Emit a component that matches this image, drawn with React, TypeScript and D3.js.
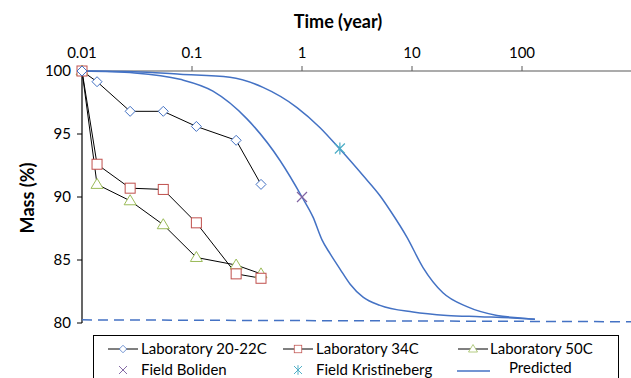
import * as d3 from 'd3';
import { useEffect, useRef } from 'react';

// time in years for the laboratory measurements
const labTimes = [0.01, 0.0137, 0.0274, 0.0548, 0.1096, 0.252, 0.424];
const lab2022 = [100, 99.15, 96.8, 96.8, 95.6, 94.5, 91.0];
const lab34 = [100, 92.6, 90.7, 90.6, 87.95, 83.9, 83.55];
const lab50 = [100, 91.0, 89.7, 87.8, 85.2, 84.6, 83.9];

const fieldBoliden = [{ t: 1.0, v: 90.0 }];
const fieldKristineberg = [{ t: 2.21, v: 93.85 }];

// predicted curves
const pred1Times = [0.01, 0.03, 0.0778, 0.155, 0.316, 0.631, 1.0, 1.26, 1.52, 1.8, 2.21, 2.73, 3.59, 5.12, 10.2, 20.8, 41.5, 82.8, 131];
const pred1Mass = [100, 99.85, 99.34, 98.4, 96.2, 92.9, 90.0, 88.4, 86.6, 85.5, 84.3, 83.1, 82.05, 81.4, 80.87, 80.6, 80.5, 80.4, 80.3];
const pred2Times = [0.01, 0.03, 0.0778, 0.221, 0.442, 0.901, 1.46, 2.21, 3.59, 5.12, 6.31, 9.01, 12.6, 19.1, 31.6, 59.3, 95.9, 131];
const pred2Mass = [100, 99.95, 99.74, 99.5, 98.7, 97.1, 95.5, 93.8, 91.7, 90.1, 88.95, 86.8, 84.4, 82.4, 81.3, 80.6, 80.4, 80.3];
const limitTimes = [0.01, 1000];
const limitMass = [80.25, 80.1];

const xTicks = [0.01, 0.1, 1, 10, 100];
const xTickLabels = ['0.01', '0.1', '1', '10', '100'];
const yTicks = [80, 85, 90, 95, 100];

const BLUE = '#4472C4';
const RED = '#C0504D';
const GREEN = '#9BBB59';
const PURPLE = '#8064A2';
const CYAN = '#4BACC6';
const FONT = 'Lato, "Open Sans", sans-serif';

function App() {
  const ref = useRef<SVGSVGElement>(null);

  useEffect(() => {
    const width = 631;
    const height = 378;
    const svg = d3.select(ref.current);
    svg.selectAll('*').remove();

    const x = d3.scaleLog().domain([0.01, 1000]).range([82, 632]);
    const y = d3.scaleLinear().domain([80, 100]).range([323, 71]);

    svg.append('rect').attr('width', width).attr('height', height).attr('fill', '#fff');

    // top axis
    svg.append('line')
      .attr('x1', x(0.01)).attr('x2', width)
      .attr('y1', y(100)).attr('y2', y(100))
      .attr('stroke', '#595959').attr('stroke-width', 1.2);
    xTicks.forEach((t, i) => {
      svg.append('line')
        .attr('x1', x(t)).attr('x2', x(t))
        .attr('y1', y(100) - 5).attr('y2', y(100))
        .attr('stroke', '#595959');
      svg.append('text')
        .attr('x', x(t)).attr('y', 58)
        .attr('text-anchor', 'middle')
        .attr('font-family', FONT).attr('font-size', 15)
        .attr('fill', '#000')
        .text(xTickLabels[i]);
    });

    // left axis
    svg.append('line')
      .attr('x1', x(0.01)).attr('x2', x(0.01))
      .attr('y1', y(100)).attr('y2', y(80))
      .attr('stroke', '#000').attr('stroke-width', 1.2);
    yTicks.forEach((v) => {
      svg.append('line')
        .attr('x1', x(0.01) - 5).attr('x2', x(0.01))
        .attr('y1', y(v)).attr('y2', y(v))
        .attr('stroke', '#000');
      svg.append('text')
        .attr('x', 71).attr('y', y(v))
        .attr('dy', '0.35em')
        .attr('text-anchor', 'end')
        .attr('font-family', FONT).attr('font-size', 15)
        .text(v);
    });

    svg.append('text')
      .attr('x', 338).attr('y', 28)
      .attr('text-anchor', 'middle')
      .attr('font-family', FONT).attr('font-size', 18).attr('font-weight', 'bold')
      .text('Time (year)');
    svg.append('text')
      .attr('transform', 'translate(34,198) rotate(-90)')
      .attr('text-anchor', 'middle')
      .attr('font-family', FONT).attr('font-size', 18).attr('font-weight', 'bold')
      .text('Mass (%)');

    const line = d3.line<[number, number]>()
      .x((d) => x(d[0]))
      .y((d) => y(d[1]))
      .curve(d3.curveMonotoneX);

    // predicted
    svg.append('path')
      .attr('d', line(limitTimes.map((t, i) => [t, limitMass[i]] as [number, number])))
      .attr('fill', 'none').attr('stroke', BLUE).attr('stroke-width', 1.5)
      .attr('stroke-dasharray', '10,6');
    [[pred1Times, pred1Mass], [pred2Times, pred2Mass]].forEach(([ts, ms]) => {
      svg.append('path')
        .attr('d', line(ts.map((t, i) => [t, ms[i]] as [number, number])))
        .attr('fill', 'none').attr('stroke', BLUE).attr('stroke-width', 1.5);
    });

    const labLine = d3.line<[number, number]>().x((d) => x(d[0])).y((d) => y(d[1]));

    const drawMarker = (g: any, kind: string, cx: number, cy: number) => {
      if (kind === 'diamond') {
        g.append('path')
          .attr('d', `M${cx},${cy - 5}L${cx + 5},${cy}L${cx},${cy + 5}L${cx - 5},${cy}Z`)
          .attr('fill', '#fff').attr('stroke', BLUE).attr('stroke-width', 1);
      } else if (kind === 'square') {
        g.append('rect')
          .attr('x', cx - 5).attr('y', cy - 5).attr('width', 10).attr('height', 10)
          .attr('fill', '#fff').attr('stroke', RED).attr('stroke-width', 1);
      } else if (kind === 'triangle') {
        g.append('path')
          .attr('d', `M${cx},${cy - 6}L${cx + 6},${cy + 4}L${cx - 6},${cy + 4}Z`)
          .attr('fill', '#fff').attr('stroke', GREEN).attr('stroke-width', 1);
      } else if (kind === 'x') {
        g.append('path')
          .attr('d', `M${cx - 5},${cy - 5}L${cx + 5},${cy + 5}M${cx - 5},${cy + 5}L${cx + 5},${cy - 5}`)
          .attr('stroke', PURPLE).attr('stroke-width', 1.2);
      } else if (kind === 'star') {
        g.append('path')
          .attr('d', `M${cx - 5},${cy - 5}L${cx + 5},${cy + 5}M${cx - 5},${cy + 5}L${cx + 5},${cy - 5}M${cx},${cy - 6}L${cx},${cy + 6}`)
          .attr('stroke', CYAN).attr('stroke-width', 1.2);
      }
    };

    const labs: [number[], string][] = [
      [lab50, 'triangle'],
      [lab34, 'square'],
      [lab2022, 'diamond']
    ];
    labs.forEach(([vals]) => {
      svg.append('path')
        .attr('d', labLine(labTimes.map((t, i) => [t, vals[i]] as [number, number])))
        .attr('fill', 'none').attr('stroke', '#000').attr('stroke-width', 1);
    });
    labs.forEach(([vals, kind]) => {
      vals.forEach((v, i) => drawMarker(svg, kind, x(labTimes[i]), y(v)));
    });
    fieldBoliden.forEach((d) => drawMarker(svg, 'x', x(d.t), y(d.v)));
    fieldKristineberg.forEach((d) => drawMarker(svg, 'star', x(d.t), y(d.v)));

    // legend
    svg.append('rect')
      .attr('x', 93.5).attr('y', 335.5).attr('width', 525).attr('height', 60)
      .attr('fill', '#fff').attr('stroke', '#000').attr('stroke-width', 1);
    const legendItems = [
      { label: 'Laboratory 20-22C', kind: 'diamond', lx: 108, tx: 141, ly: 349, line: true },
      { label: 'Laboratory 34C', kind: 'square', lx: 283, tx: 316, ly: 349, line: true },
      { label: 'Laboratory 50C', kind: 'triangle', lx: 458, tx: 490, ly: 349, line: true },
      { label: 'Field Boliden', kind: 'x', lx: 108, tx: 141, ly: 370, line: false },
      { label: 'Field Kristineberg', kind: 'star', lx: 283, tx: 316, ly: 370, line: false },
      { label: 'Predicted', kind: 'pred', lx: 457, tx: 509, ly: 368, line: false }
    ];
    legendItems.forEach((it) => {
      if (it.kind === 'pred') {
        svg.append('line')
          .attr('x1', it.lx).attr('x2', it.lx + 33)
          .attr('y1', it.ly + 3).attr('y2', it.ly + 3)
          .attr('stroke', BLUE).attr('stroke-width', 1.5);
      } else {
        if (it.line) {
          svg.append('line')
            .attr('x1', it.lx).attr('x2', it.lx + 30)
            .attr('y1', it.ly).attr('y2', it.ly)
            .attr('stroke', '#000').attr('stroke-width', 1);
        }
        const s = it.kind === 'x' || it.kind === 'star' ? 0.8 : 0.75;
        const g = svg.append('g')
          .attr('transform', `translate(${it.lx + 15},${it.ly}) scale(${s})`);
        drawMarker(g, it.kind, 0, 0);
      }
      svg.append('text')
        .attr('x', it.tx).attr('y', it.ly)
        .attr('dy', '0.35em')
        .attr('font-family', FONT).attr('font-size', 15)
        .text(it.label);
    });
  }, []);

  return (
    <svg
      ref={ref}
      width={631}
      height={378}
      style={{ position: 'absolute', left: 0, top: 0 }}
    ></svg>
  );
}

export default App;
